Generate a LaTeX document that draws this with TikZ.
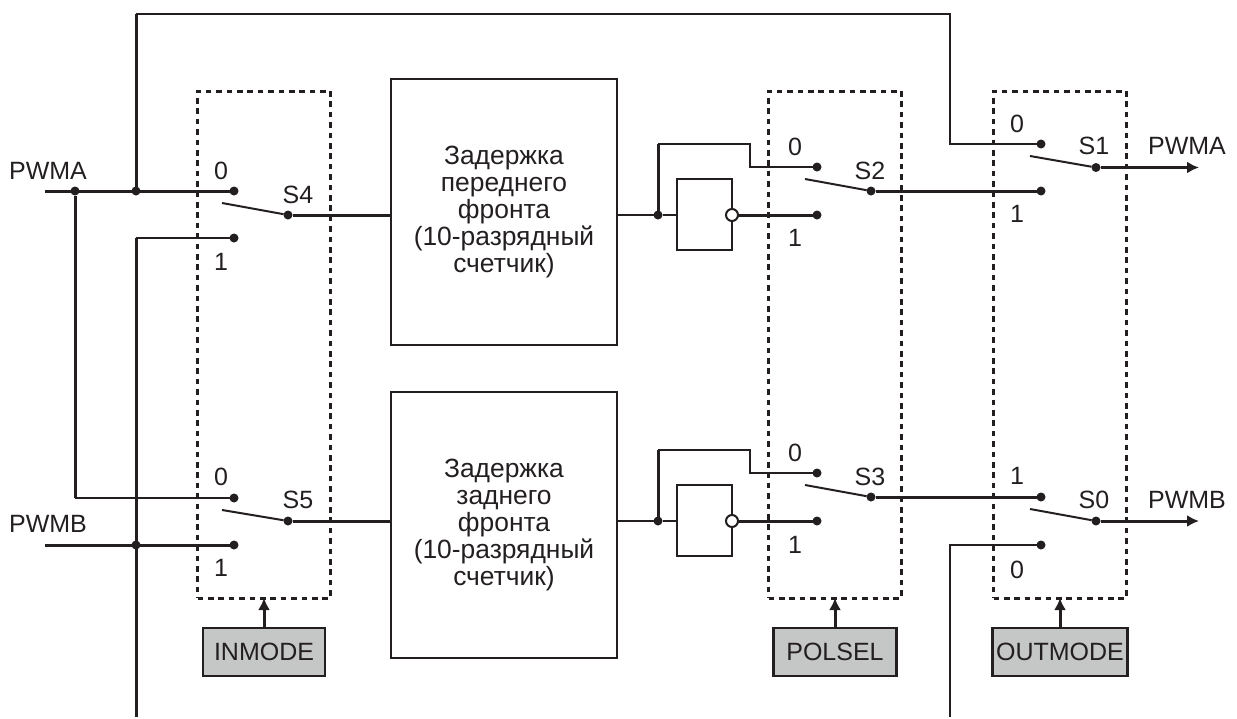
\documentclass[tikz,border=0pt]{standalone}
\usepackage{fontspec}
\setmainfont{Liberation Sans}
\usetikzlibrary{arrows.meta,positioning}
\definecolor{ink}{HTML}{231F20}
\definecolor{gate}{HTML}{C5C7C6}
\tikzset{
  >={Latex[length=6pt,width=6pt]},
  every node/.style={font=\fontsize{12.5pt}{12.3pt}\selectfont,text=ink,inner sep=0pt,outer sep=0pt},
  wire/.style={line width=1.5pt,draw=ink},
  thinwire/.style={line width=1pt,draw=ink},
  blade/.style={line width=1pt,draw=ink},
  ctrl/.style={->,line width=1.5pt,draw=ink},
  dot/.style={circle,fill=ink,minimum size=4.5pt},
  delaybox/.style={draw=ink,line width=1pt,minimum width=113pt,minimum height=133pt,align=center,
    font=\fontsize{13.2pt}{13.5pt}\selectfont},
  invbox/.style={draw=ink,line width=1pt,minimum width=27.5pt,minimum height=35.5pt},
  bubble/.style={circle,draw=ink,line width=1pt,fill=white,minimum size=6pt},
  groupbox/.style={draw=ink,line width=1.5pt,dash pattern=on 2.8pt off 2.4pt,minimum width=66.5pt,minimum height=253.5pt},
  gatebox/.style={draw=ink,line width=1.2pt,fill=gate,minimum height=24pt},
}

\begin{document}
\begin{tikzpicture}[x=0.5pt,y=-0.5pt]
\useasboundingbox (0,0) rectangle (1237,718);

% --- delay blocks
\node[delaybox] (lead) at (504,212) {Задержка\\переднего\\фронта\\(10-разрядный\\счетчик)};
\node[delaybox,below=23.5pt of lead] (trail) {Задержка\\заднего\\фронта\\(10-разрядный\\счетчик)};

% --- input side
\coordinate (pwmaIn) at (45,191);
\coordinate (pwmbIn) at (45,545);
\node[dot] (ja) at (75,191) {};
\node[dot] (jb) at (136,191) {};
\node[dot] (jc) at (136,545) {};
\node[dot] (s4a) at (234,191) {};
\node[dot] (s4c) at (234,238) {};
\node[dot] (s4p) at (288,215) {};
\node[dot] (s5a) at (234,498) {};
\node[dot] (s5c) at (234,545) {};
\node[dot] (s5p) at (288,521) {};
\coordinate (s4f) at (222,203);
\coordinate (s5f) at (222,510);
\coordinate (inturn) at (136,238);
\coordinate (inbot) at (136,717);
\coordinate (topl) at (136,14);
\coordinate (topr) at (950,14);
\coordinate (topd) at (950,144);
\coordinate (alow) at (75,498);

\draw[wire] (pwmaIn) -- (s4a);
\draw[wire] (pwmbIn) -- (s5c);
\draw[wire] (ja) -- (alow);
\draw[thinwire] (alow) -- (s5a);
\draw[wire] (jb) -- (topl);
\draw[wire] (inbot) -- (inturn);
\draw[thinwire] (inturn) -- (s4c);
\draw[blade] (s4f) -- (s4p);
\draw[blade] (s5f) -- (s5p);
\draw[wire] (s4p) -- (s4p -| lead.west);
\draw[wire] (s5p) -- (s5p -| trail.west);

% --- inverters, upper and lower
\node[dot] (j2) at (658,215) {};
\node[dot] (j3) at (658,521) {};
\node[invbox] (inv2) at (704.5,214.5) {};
\node[invbox] (inv3) at (704.5,520.5) {};
\node[bubble] (b2) at (732,215) {};
\node[bubble] (b3) at (732,521) {};
\node[dot] (s2a) at (817,167) {};
\node[dot] (s2c) at (817,215) {};
\node[dot] (s2p) at (871,191) {};
\node[dot] (s3a) at (817,473) {};
\node[dot] (s3c) at (817,521) {};
\node[dot] (s3p) at (871,497) {};
\coordinate (s2f) at (805,179);
\coordinate (s3f) at (805,485);
\coordinate (u2) at (658,144);
\coordinate (r2) at (750,144);
\coordinate (d2) at (750,167);
\coordinate (u3) at (658,450);
\coordinate (r3) at (750,450);
\coordinate (d3) at (750,473);

\draw[thinwire] (j2 -| lead.east) -- (j2) -- (inv2.west |- j2);
\draw[thinwire] (j3 -| trail.east) -- (j3) -- (inv3.west |- j3);
\draw[wire] (j2) -- (u2);
\draw[wire] (j3) -- (u3);
\draw[thinwire] (u2) -- (r2) -- (d2) -- (s2a);
\draw[thinwire] (u3) -- (r3) -- (d3) -- (s3a);
\draw[wire] (b2) -- (s2c);
\draw[wire] (b3) -- (s3c);
\draw[blade] (s2f) -- (s2p);
\draw[blade] (s3f) -- (s3p);

% --- output side
\node[dot] (s1a) at (1041,144) {};
\node[dot] (s1c) at (1041,191) {};
\node[dot] (s1p) at (1096,167.5) {};
\node[dot] (s0a) at (1041,497) {};
\node[dot] (s0c) at (1041,545) {};
\node[dot] (s0p) at (1096,521) {};
\coordinate (s1f) at (1030,156);
\coordinate (s0f) at (1030,509);
\coordinate (pwmaOut) at (1199,167.5);
\coordinate (pwmbOut) at (1199,521);
\coordinate (outturn) at (950,545);
\coordinate (outbot) at (950,717);

\draw[thinwire] (topl) -- (topr) -- (topd) -- (s1a);
\draw[thinwire] (outbot) -- (outturn) -- (s0c);
\draw[wire] (s2p) -- (s1c);
\draw[wire] (s3p) -- (s0a);
\draw[blade] (s1f) -- (s1p);
\draw[blade] (s0f) -- (s0p);
\draw[ctrl] (s1p) -- (pwmaOut);
\draw[ctrl] (s0p) -- (pwmbOut);

% --- dashed groups and their mode registers
\node[groupbox] (ingroup) at (264,344.5) {};
\node[groupbox] (polgroup) at (835,344.5) {};
\node[groupbox] (outgroup) at (1060,344.5) {};
\node[gatebox,minimum width=61pt,below=15pt of ingroup] (inmode) {INMODE};
\node[gatebox,minimum width=61.5pt,below=15pt of polgroup] (polsel) {POLSEL};
\node[gatebox,minimum width=67.5pt,below=15pt of outgroup] (outmode) {OUTMODE};
\draw[ctrl] (inmode) -- (ingroup);
\draw[ctrl] (polsel) -- (polgroup);
\draw[ctrl] (outmode) -- (outgroup);

% --- labels
\node (lpwma) at (48,171) {PWMA};
\node (lpwmb) at (48,524) {PWMB};
\node (lpwmaout) at (1187,146) {PWMA};
\node (lpwmbout) at (1187,500) {PWMB};
\node (ls4) at (298,195) {S4};
\node (ls5) at (298,500) {S5};
\node (ls2) at (870,171) {S2};
\node (ls3) at (870,477) {S3};
\node (ls1) at (1094,146) {S1};
\node (ls0) at (1094,500) {S0};
\node (n40) at (221,171) {0};
\node (n41) at (221,262) {1};
\node (n50) at (221,477) {0};
\node (n51) at (221,568) {1};
\node (n20) at (795,147) {0};
\node (n21) at (795,238) {1};
\node (n30) at (795,453) {0};
\node (n31) at (795,545) {1};
\node (n10) at (1017,124) {0};
\node (n11) at (1017,214) {1};
\node (n01) at (1017,476) {1};
\node (n00) at (1017,570) {0};

\end{tikzpicture}
\end{document}
